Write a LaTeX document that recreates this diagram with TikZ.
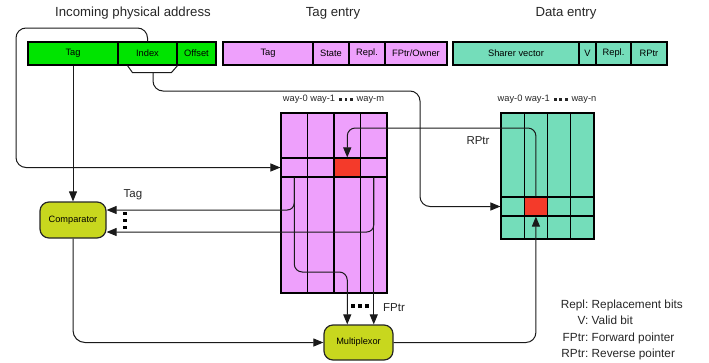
\documentclass[tikz,border=0pt]{standalone}
\usepackage{fontspec}
\setmainfont{Liberation Sans}
\usetikzlibrary{arrows.meta,calc}
\definecolor{addrgreen}{HTML}{00E400}
\definecolor{tagpink}{HTML}{EEA0FC}
\definecolor{datateal}{HTML}{74DDBA}
\definecolor{hitred}{HTML}{F43A2A}
\definecolor{unitolive}{HTML}{C8D71E}
\definecolor{wirecol}{HTML}{1A1A1A}
\begin{document}
\begin{tikzpicture}[x=1pt,y=-1pt,
  fld/.style={draw=black, line width=1.1pt, minimum height=23pt, inner sep=0pt,
    font=\fontsize{9.3}{11}\selectfont},
  cell/.style={draw=black, line width=1.1pt, inner sep=0pt, minimum height=19pt},
  gridln/.style={draw=black, line width=1.1pt},
  unit/.style={draw=black!85, line width=1.2pt, rounded corners=9pt, fill=unitolive,
    inner sep=0pt, font=\fontsize{9.2}{11}\selectfont},
  wire/.style={draw=wirecol, line width=1pt},
  arr/.style={-{Triangle[length=10pt,width=8pt]}},
  title/.style={font=\fontsize{13.2}{15}\selectfont, text=black!85},
  wlab/.style={font=\fontsize{9.3}{11}\selectfont, text=black!85},
  lab/.style={font=\fontsize{11.5}{13}\selectfont, text=black!85},
  leg/.style={font=\fontsize{11.8}{13}\selectfont, text=black!85, inner sep=0pt},
  dotsq/.style={fill=black}
]
\useasboundingbox (0,0) rectangle (709,362);

% titles
\node[title] (t1) at (133,13) {Incoming physical address};
\node[title] (t2) at (333,13) {Tag entry};
\node[title] (t3) at (566,13) {Data entry};

% incoming address fields
\node[fld, fill=addrgreen, minimum width=90pt] (atag) at (73,53.5) {Tag};
\node[fld, fill=addrgreen, minimum width=59pt] (idx) at (147.5,53.5) {Index};
\node[fld, fill=addrgreen, minimum width=39pt] (aoff) at (196.5,53.5) {Offset};

% tag entry fields
\node[fld, fill=tagpink, minimum width=90pt] (etag) at (268,53.5) {Tag};
\node[fld, fill=tagpink, minimum width=36pt] (estate) at (331,53.5) {State};
\node[fld, fill=tagpink, minimum width=36pt] (erepl) at (367,53.5) {Repl.};
\node[fld, fill=tagpink, minimum width=62pt] (efptr) at (416,53.5) {FPtr/Owner};

% data entry fields
\node[fld, fill=datateal, minimum width=126pt] (dshare) at (516,53.5) {Sharer vector};
\node[fld, fill=datateal, minimum width=17pt] (dv) at (587.5,53.5) {V};
\node[fld, fill=datateal, minimum width=35pt] (drepl) at (613.5,53.5) {Repl.};
\node[fld, fill=datateal, minimum width=36pt] (drptr) at (649,53.5) {RPtr};

% way labels
\node[wlab] (wl1) at (333.5,99) {way-0 way-1\hspace{4pt}\rule[0.6pt]{2.8pt}{2.8pt}\hspace{2.6pt}\rule[0.6pt]{2.8pt}{2.8pt}\hspace{2.6pt}\rule[0.6pt]{2.8pt}{2.8pt}\hspace{4pt}way-m};
\node[wlab] (wl2) at (547,99) {way-0 way-1\hspace{4pt}\rule[0.6pt]{2.8pt}{2.8pt}\hspace{2.6pt}\rule[0.6pt]{2.8pt}{2.8pt}\hspace{2.6pt}\rule[0.6pt]{2.8pt}{2.8pt}\hspace{4pt}way-n};

% tag array
\fill[tagpink] (281,113) rectangle (387,293);
\node[cell, fill=tagpink, minimum width=26.5pt] (tc0) at (294.25,167.5) {};
\node[cell, fill=tagpink, minimum width=26.5pt] (tc1) at (320.75,167.5) {};
\node[cell, fill=hitred, minimum width=26.5pt] (tr) at (347.25,167.5) {};
\node[cell, fill=tagpink, minimum width=26.5pt] (tc3) at (373.75,167.5) {};
\draw[gridln] (281,113) rectangle (387,293);
\draw[gridln] (307.5,113) -- (307.5,293) (334,113) -- (334,293) (360.5,113) -- (360.5,293);

% data array
\fill[datateal] (501,113) rectangle (594,239);
\node[cell, fill=datateal, minimum width=23.25pt] (dc0) at (512.6,206.5) {};
\node[cell, fill=hitred, minimum width=23.25pt] (dr) at (535.9,206.5) {};
\node[cell, fill=datateal, minimum width=23.25pt] (dc2) at (559.1,206.5) {};
\node[cell, fill=datateal, minimum width=23.25pt] (dc3) at (582.4,206.5) {};
\draw[gridln] (501,113) rectangle (594,239);
\draw[gridln] (524.25,113) -- (524.25,239) (547.5,113) -- (547.5,239) (570.75,113) -- (570.75,239);

% units
\node[unit, minimum width=66pt, minimum height=36pt] (cmp) at (73,220) {Comparator};
\node[unit, minimum width=69pt, minimum height=35pt] (mux) at (358.5,342.5) {Multiplexor};

% helper coordinates
\coordinate (lpt) at (16,28);
\coordinate (brk) at (153,72);
\coordinate (ipt) at (420,91);
\coordinate (ylow) at (0,272);
\coordinate (ytop) at (0,128);

% index bracket
\draw[wire] ([xshift=10pt]idx.south west) -- ++(5,7) -- ++(39,0) -- (idx.south east);

% connectors
\draw[wire, arr, rounded corners=10pt] (idx.north) |- (lpt) |- (tc0.west);
\draw[wire, arr, rounded corners=10pt] (brk) |- (ipt) |- (dc0.west);
\draw[wire, arr] (atag.south) -- (cmp.north);
\draw[wire, arr, rounded corners=7pt] (tc0.south) |- ($(cmp.east)+(0,-10)$);
\draw[wire, arr, rounded corners=7pt] (tc3.south) |- ($(cmp.east)+(0,12)$);
\draw[wire, arr, rounded corners=8pt] (tc0.south) -- (tc0.south |- ylow) -- (tr.center |- ylow) -- (tr.center |- mux.north);
\draw[wire, arr] (tc3.south) -- (tc3.south |- mux.north);
\draw[wire, arr, rounded corners=8pt] (dr.north) -- (dr.north |- ytop) -- (tr.north |- ytop) -- (tr.north);
\draw[wire, arr, rounded corners=10pt] (mux.east) -| (dr.south);
\draw[wire, arr, rounded corners=12pt] (cmp.south) |- (mux.west);

% dots
\fill[dotsq] (123.3,211.8) rectangle ++(3.5,3.5);
\fill[dotsq] (123.3,218.8) rectangle ++(3.5,3.5);
\fill[dotsq] (123.3,225.8) rectangle ++(3.5,3.5);
\fill[dotsq] (351.3,304.3) rectangle ++(3.5,3.5);
\fill[dotsq] (358.3,304.3) rectangle ++(3.5,3.5);
\fill[dotsq] (365.3,304.3) rectangle ++(3.5,3.5);

% labels
\node[lab] (ltag) at (133,195) {Tag};
\node[lab] (lrptr) at (478,141) {RPtr};
\node[lab] (lfptr) at (394,308) {FPtr};

% legend
\node[leg, anchor=base east] (k1) at (588.5,308) {Repl:};
\node[leg, anchor=base west] (v1) at (591.5,308) {Replacement bits};
\node[leg, anchor=base east] (k2) at (588.5,324.5) {V:};
\node[leg, anchor=base west] (v2) at (591.5,324.5) {Valid bit};
\node[leg, anchor=base east] (k3) at (588.5,341) {FPtr:};
\node[leg, anchor=base west] (v3) at (591.5,341) {Forward pointer};
\node[leg, anchor=base east] (k4) at (588.5,357.5) {RPtr:};
\node[leg, anchor=base west] (v4) at (591.5,357.5) {Reverse pointer};
\end{tikzpicture}
\end{document}
